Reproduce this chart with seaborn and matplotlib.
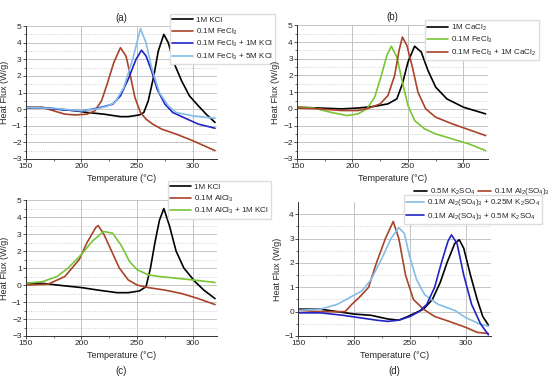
import numpy as np
import matplotlib
matplotlib.use("Agg")
import matplotlib.pyplot as plt
import seaborn as sns

# ---- panel (a) ----
a_kcl_t = [150, 165, 180, 195, 205, 220, 235, 242, 252, 256, 260, 265, 269, 274, 278, 283, 290, 297, 305, 312, 320]
a_kcl_q = [0.1, 0.1, 0.0, -0.1, -0.2, -0.3, -0.45, -0.45, -0.35, -0.2, 0.5, 2.0, 3.5, 4.5, 4.0, 2.8, 1.7, 0.8, 0.2, -0.3, -0.8]
a_fe_t = [150, 165, 175, 185, 195, 205, 212, 218, 223, 229, 235, 240, 244, 248, 253, 258, 264, 272, 285, 300, 320]
a_fe_q = [0.1, 0.1, -0.1, -0.3, -0.35, -0.3, -0.1, 0.5, 1.5, 2.8, 3.7, 3.2, 2.0, 0.7, -0.2, -0.6, -0.9, -1.2, -1.5, -1.9, -2.5]
a_fe1k_t = [150, 170, 185, 200, 210, 220, 228, 235, 242, 249, 254, 258, 263, 268, 275, 282, 295, 305, 320]
a_fe1k_q = [0.1, 0.05, -0.05, -0.1, 0.0, 0.15, 0.3, 0.8, 1.8, 3.0, 3.55, 3.2, 2.3, 1.2, 0.3, -0.2, -0.6, -0.9, -1.15]
a_fe5k_t = [150, 175, 200, 212, 222, 230, 238, 246, 253, 258, 263, 270, 278, 285, 300, 320]
a_fe5k_q = [0.1, 0.05, -0.1, 0.0, 0.15, 0.4, 1.3, 3.0, 4.85, 4.0, 2.5, 1.0, 0.2, -0.2, -0.4, -0.55]

# ---- panel (b) ----
b_ca_t = [150, 170, 190, 205, 220, 232, 240, 245, 250, 256, 262, 268, 275, 285, 300, 320]
b_ca_q = [0.1, 0.05, 0.0, 0.05, 0.15, 0.3, 0.6, 1.5, 2.8, 3.75, 3.4, 2.3, 1.3, 0.6, 0.1, -0.3]
b_fe_t = [150, 165, 180, 195, 205, 213, 220, 226, 231, 235, 240, 245, 250, 256, 265, 275, 290, 305, 320]
b_fe_q = [0.1, 0.05, -0.2, -0.4, -0.3, 0.0, 0.7, 2.0, 3.2, 3.75, 3.1, 1.6, 0.2, -0.7, -1.2, -1.5, -1.8, -2.1, -2.5]
b_feca_t = [150, 170, 190, 205, 215, 225, 232, 238, 242, 245, 249, 254, 259, 266, 275, 290, 305, 320]
b_feca_q = [0.05, 0.0, -0.1, -0.1, 0.05, 0.3, 0.8, 2.0, 3.5, 4.3, 3.8, 2.5, 1.0, 0.0, -0.5, -0.9, -1.25, -1.6]

# ---- panel (c) ----
c_kcl_t = [150, 165, 185, 200, 215, 232, 242, 252, 258, 262, 266, 270, 274, 279, 285, 292, 302, 310, 320]
c_kcl_q = [0.1, 0.1, -0.05, -0.15, -0.3, -0.45, -0.45, -0.35, -0.1, 1.0, 2.5, 3.8, 4.5, 3.5, 2.0, 1.0, 0.2, -0.3, -0.8]
c_al_t = [150, 170, 185, 198, 205, 213, 215, 220, 227, 234, 242, 250, 260, 275, 290, 305, 320]
c_al_q = [0.0, 0.05, 0.5, 1.5, 2.5, 3.4, 3.5, 3.0, 2.0, 1.0, 0.3, 0.0, -0.15, -0.3, -0.5, -0.8, -1.15]
c_alk_t = [150, 165, 178, 188, 200, 210, 220, 228, 236, 243, 250, 260, 270, 285, 300, 320]
c_alk_q = [0.1, 0.2, 0.5, 1.0, 1.8, 2.6, 3.15, 3.05, 2.3, 1.4, 0.9, 0.6, 0.5, 0.4, 0.3, 0.15]

# ---- panel (d) ----
d_k_t = [150, 170, 185, 200, 215, 230, 240, 248, 255, 262, 270, 277, 283, 290, 294, 298, 304, 310, 315, 320]
d_k_q = [0.1, 0.1, 0.0, -0.1, -0.15, -0.3, -0.35, -0.2, -0.05, 0.1, 0.5, 1.2, 2.0, 2.8, 2.95, 2.6, 1.5, 0.5, -0.2, -0.55]
d_al_t = [150, 170, 192, 198, 205, 213, 220, 228, 235, 240, 246, 253, 262, 272, 285, 300, 310, 320]
d_al_q = [0.05, 0.0, 0.0, 0.3, 0.6, 1.0, 2.0, 3.0, 3.7, 3.0, 1.5, 0.5, 0.1, -0.2, -0.4, -0.65, -0.85, -0.9]
d_al25_t = [150, 170, 185, 197, 207, 215, 225, 233, 240, 245, 250, 256, 263, 275, 290, 300, 312, 320]
d_al25_q = [0.05, 0.1, 0.3, 0.6, 0.85, 1.3, 2.2, 3.0, 3.45, 3.2, 2.2, 1.3, 0.7, 0.3, 0.05, -0.25, -0.5, -0.6]
d_al50_t = [150, 170, 190, 205, 220, 230, 240, 250, 258, 265, 272, 278, 284, 287, 292, 298, 305, 313, 320]
d_al50_q = [-0.05, -0.05, -0.15, -0.25, -0.35, -0.4, -0.35, -0.2, 0.0, 0.3, 1.0, 2.0, 2.9, 3.15, 2.8, 1.5, 0.3, -0.5, -0.95]

BLACK = "#000000"
BROWN = "#a9432a"
BLUE = "#2323c4"
LBLUE = "#84bde8"
GREEN = "#79c536"

sns.set_style("white")
plt.rcParams["font.family"] = ["Liberation Sans", "DejaVu Sans"]
plt.rcParams["mathtext.fontset"] = "custom"
plt.rcParams["mathtext.rm"] = "Liberation Sans"
plt.rcParams["mathtext.default"] = "regular"

fig = plt.figure(figsize=(5.5, 3.84), dpi=100)
ax_a = fig.add_axes([0.047, 0.586, 0.348, 0.346])
ax_b = fig.add_axes([0.540, 0.586, 0.347, 0.348])
ax_c = fig.add_axes([0.047, 0.125, 0.348, 0.354])
ax_d = fig.add_axes([0.542, 0.125, 0.350, 0.349])


def style(ax, ylo, yhi, yticks):
    ax.set_xlim(150, 322)
    ax.set_ylim(ylo, yhi)
    ax.set_xticks([150, 200, 250, 300])
    ax.set_xticks([175, 225, 275], minor=True)
    ax.set_yticks(yticks)
    ax.set_yticks(np.arange(ylo + 0.5, yhi, 1.0), minor=True)
    ax.grid(True, which="major", color="#c4c4c4", lw=0.7)
    ax.grid(True, which="minor", axis="y", color="#c4c4c4", lw=0.6, ls=":")
    ax.set_axisbelow(True)
    for s in ["top", "right"]:
        ax.spines[s].set_visible(False)
    for s in ["left", "bottom"]:
        ax.spines[s].set_color("#333333")
        ax.spines[s].set_linewidth(0.7)
    ax.tick_params(which="major", direction="out", length=2, width=0.6,
                   labelsize=6, pad=1, left=True, bottom=True, color="#333333")
    ax.tick_params(which="minor", direction="out", length=1.2, width=0.5,
                   left=True, bottom=True, color="#333333")
    ax.set_xlabel("Temperature (°C)", fontsize=6.5, labelpad=3)
    ax.set_ylabel("Heat Flux (W/g)", fontsize=6.5, labelpad=2)


def draw(ax, t, q, color, label):
    sns.lineplot(x=t, y=q, ax=ax, color=color, lw=1.2, label=label, legend=False)


leg_kw = dict(fontsize=5.8, frameon=True, fancybox=False, edgecolor="#dddddd",
              framealpha=1, handletextpad=0.3,
              labelspacing=0.3, borderpad=0.3, borderaxespad=0)

# (a)
draw(ax_a, a_kcl_t, a_kcl_q, BLACK, "1M KCl")
draw(ax_a, a_fe_t, a_fe_q, BROWN, "0.1M FeCl$_3$")
draw(ax_a, a_fe1k_t, a_fe1k_q, BLUE, "0.1M FeCl$_3$ + 1M KCl")
draw(ax_a, a_fe5k_t, a_fe5k_q, LBLUE, "0.1M FeCl$_3$ + 5M KCl")
style(ax_a, -3, 5, range(-3, 6))
ax_a.set_title("(a)", fontsize=7, pad=4)
ax_a.legend(loc="upper left", bbox_to_anchor=(170 / 550, 1 - 14 / 384),
            bbox_transform=fig.transFigure, handlelength=2.6, **leg_kw)

# (b)
draw(ax_b, b_ca_t, b_ca_q, BLACK, "1M CaCl$_2$")
draw(ax_b, b_fe_t, b_fe_q, GREEN, "0.1M FeCl$_3$")
draw(ax_b, b_feca_t, b_feca_q, BROWN, "0.1M FeCl$_3$ + 1M CaCl$_2$")
style(ax_b, -3, 5, range(-3, 6))
ax_b.set_title("(b)", fontsize=7, pad=4)
ax_b.legend(loc="upper left", bbox_to_anchor=(425 / 550, 1 - 20 / 384),
            bbox_transform=fig.transFigure, handlelength=2.6, **leg_kw)

# (c)
draw(ax_c, c_kcl_t, c_kcl_q, BLACK, "1M KCl")
draw(ax_c, c_al_t, c_al_q, BROWN, "0.1M AlCl$_3$")
draw(ax_c, c_alk_t, c_alk_q, GREEN, "0.1M AlCl$_3$ + 1M KCl")
style(ax_c, -3, 5, range(-3, 6))
ax_c.legend(loc="upper left", bbox_to_anchor=(168 / 550, 1 - 181 / 384),
            bbox_transform=fig.transFigure, handlelength=2.6, **leg_kw)
ax_c.text(0.5, -0.26, "(c)", transform=ax_c.transAxes, ha="center", va="center", fontsize=7)

# (d)
draw(ax_d, d_k_t, d_k_q, BLACK, "0.5M K$_2$SO$_4$")
draw(ax_d, d_al_t, d_al_q, BROWN, "0.1M Al$_2$(SO$_4$)$_3$")
draw(ax_d, d_al25_t, d_al25_q, LBLUE, "0.1M Al$_2$(SO$_4$)$_3$ + 0.25M K$_2$SO$_4$")
draw(ax_d, d_al50_t, d_al50_q, BLUE, "0.1M Al$_2$(SO$_4$)$_3$ + 0.5M K$_2$SO$_4$")
style(ax_d, -1, 4.5, range(-1, 5))
ax_d.set_yticks(np.arange(-0.5, 4.5, 1.0), minor=True)
handles, labels = ax_d.get_legend_handles_labels()
leg1 = ax_d.legend(handles[:2], labels[:2], ncol=2, loc="upper left",
                   bbox_to_anchor=(412 / 550, 1 - 184 / 384), bbox_transform=fig.transFigure,
                   columnspacing=0.4, handlelength=1.6, **leg_kw)
leg1.get_frame().set_linewidth(0)
ax_d.add_artist(leg1)
ax_d.legend(handles[2:], labels[2:], loc="upper left",
            bbox_to_anchor=(404 / 550, 1 - 195 / 384), bbox_transform=fig.transFigure,
            handlelength=2.2, **leg_kw)
ax_d.text(0.5, -0.26, "(d)", transform=ax_d.transAxes, ha="center", va="center", fontsize=7)

fig.savefig("out.png", dpi=100)
